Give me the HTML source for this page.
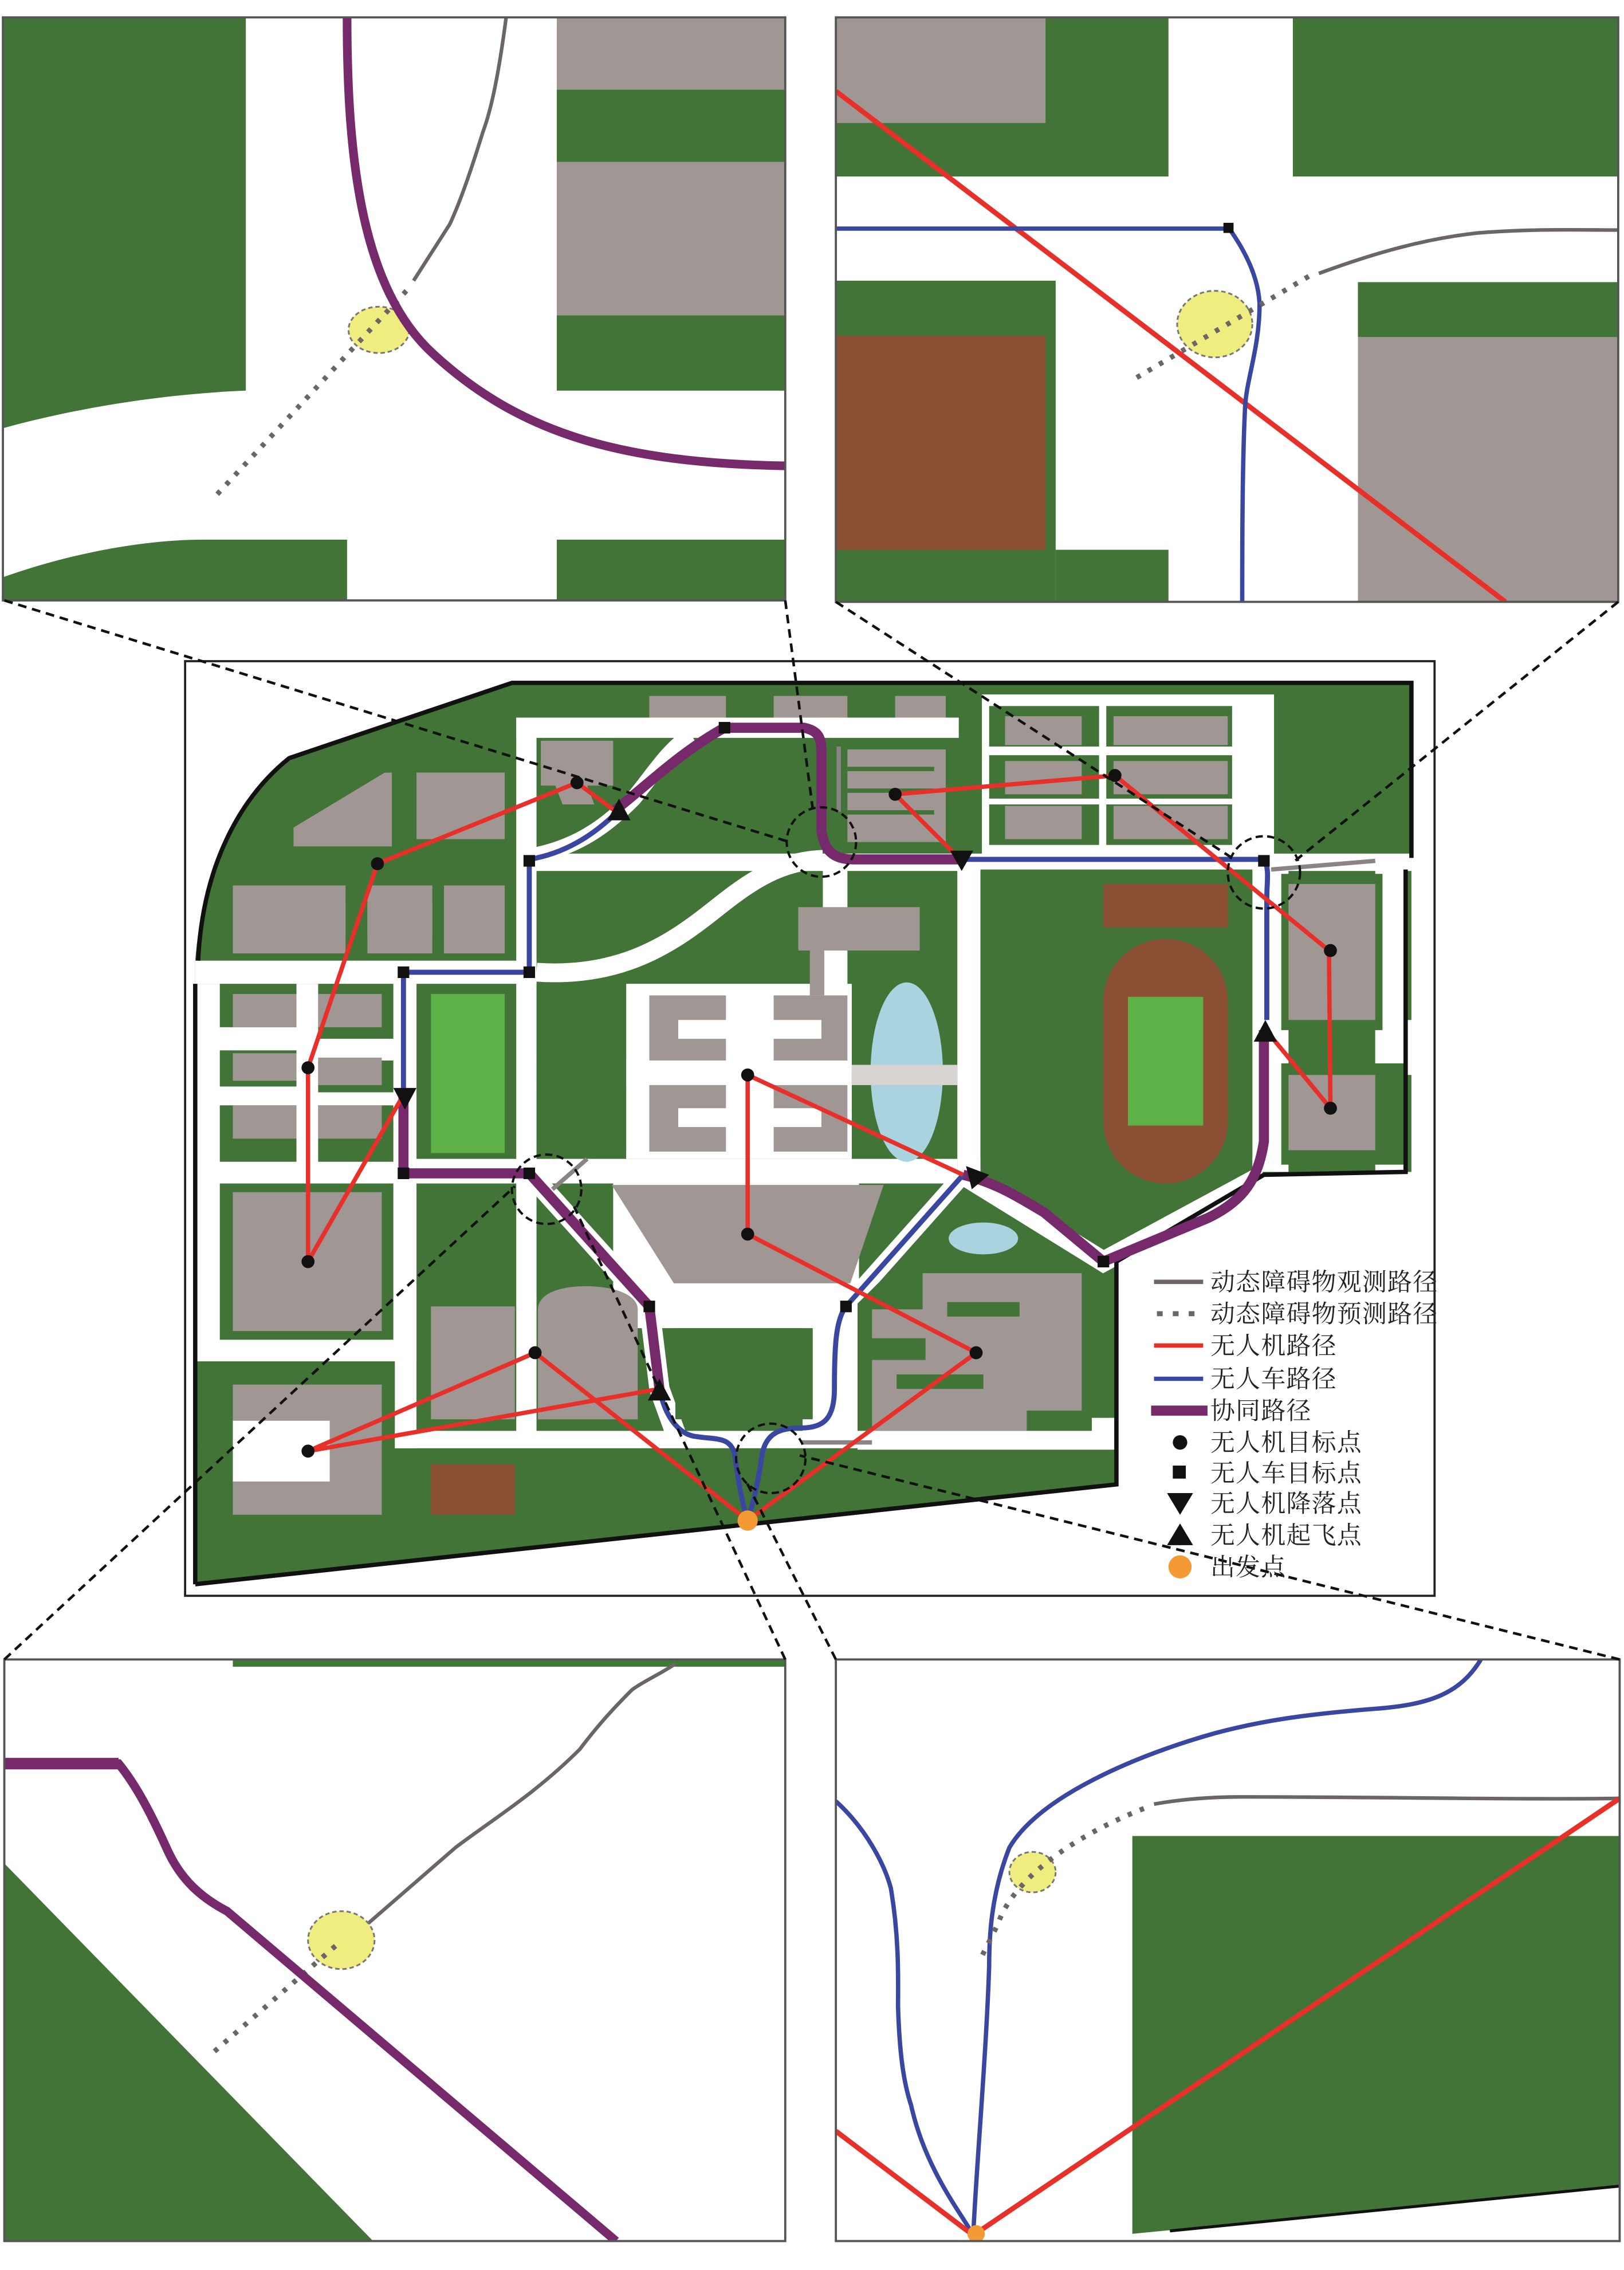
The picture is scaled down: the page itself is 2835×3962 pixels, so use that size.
<!DOCTYPE html>
<html><head><meta charset="utf-8"><style>
html,body{margin:0;padding:0;background:#fff;}
svg{display:block;}
text{font-family:"Liberation Serif","Noto Serif CJK SC","Noto Sans CJK SC",serif;}
</style></head><body>
<svg width="2835" height="3962" viewBox="0 0 1123 1569" preserveAspectRatio="none" xmlns="http://www.w3.org/2000/svg">
<defs>
<clipPath id="cTL"><rect x="2" y="12" width="541" height="403"/></clipPath>
<clipPath id="cTR"><rect x="578" y="12" width="541" height="404"/></clipPath>
<clipPath id="cBL"><rect x="3" y="1147" width="540" height="402"/></clipPath>
<clipPath id="cBR"><rect x="578" y="1147" width="542" height="402"/></clipPath>
</defs>
<rect width="1123" height="1569" fill="#fff"/>

<!-- ============ TOP LEFT PANEL ============ -->
<g clip-path="url(#cTL)">
<path d="M2,12 L170,12 L170,270 C120,272 60,280 2,296 Z" fill="#427337"/>
<path d="M2,399 C50,382 100,373 141,373 L240,373 L240,415 L2,415 Z" fill="#427337"/>
<rect x="385" y="12" width="158" height="50" fill="#a09693"/>
<rect x="385" y="62" width="158" height="50" fill="#427337"/>
<rect x="385" y="112" width="158" height="106" fill="#a09693"/>
<rect x="385" y="218" width="158" height="52" fill="#427337"/>
<rect x="385" y="373" width="158" height="42" fill="#427337"/>
<path d="M350,12 C345,50 340,75 334,91 C325,120 318,140 311,155 L286,194" fill="none" stroke="#6b6565" stroke-width="2.5"/>
<ellipse cx="262" cy="228" rx="21" ry="16" fill="#f0ed80" stroke="#777" stroke-width="1.2" stroke-dasharray="3,2"/>
<path d="M281,201 L148,344" fill="none" stroke="#6b6565" stroke-width="3.5" stroke-dasharray="3,6"/>
<path d="M240,12 C240,110 250,200 300,245 C360,300 430,320 543,322" fill="none" stroke="#772a6b" stroke-width="6"/>
</g>
<rect x="2" y="12" width="541" height="403" fill="none" stroke="#555" stroke-width="1.5"/>

<!-- ============ TOP RIGHT PANEL ============ -->
<g clip-path="url(#cTR)">
<rect x="578" y="12" width="230" height="110" fill="#427337"/>
<rect x="578" y="12" width="145" height="73" fill="#a09693"/>
<rect x="894" y="12" width="226" height="110" fill="#427337"/>
<rect x="578" y="194" width="152" height="222" fill="#427337"/>
<rect x="578" y="232" width="145" height="148" fill="#8c5034"/>
<rect x="730" y="380" width="78" height="36" fill="#427337"/>
<rect x="939" y="195" width="181" height="38" fill="#427337"/>
<rect x="939" y="233" width="181" height="183" fill="#a09693"/>
<path d="M578,63 L1041,416" stroke="#e8302a" stroke-width="3.5"/>
<path d="M578,158 L850,158 C860,172 870,190 871,210 C871,240 862,262 861,281 C859,320 859,380 859,416" fill="none" stroke="#3a47a0" stroke-width="3"/>
<rect x="846" y="154" width="7" height="7" fill="#111"/>
<path d="M912,189 C950,175 985,165 1022,161 C1060,158 1090,159 1119,159" fill="none" stroke="#6b6565" stroke-width="2.5"/>
<ellipse cx="840" cy="224" rx="26" ry="23" fill="#f0ed80" stroke="#777" stroke-width="1.2" stroke-dasharray="3,2"/>
<path d="M905,191 L786,261" fill="none" stroke="#6b6565" stroke-width="3.5" stroke-dasharray="3,6"/>
</g>
<rect x="578" y="12" width="541" height="404" fill="none" stroke="#555" stroke-width="1.5"/>

<!-- ============ BOTTOM LEFT PANEL ============ -->
<g clip-path="url(#cBL)">
<rect x="161" y="1147" width="382" height="5" fill="#3f7a34"/>
<path d="M3,1288 L258,1549 L3,1549 Z" fill="#427337"/>
<path d="M467,1150 C455,1158 445,1162 437,1168 C420,1185 410,1197 401,1209 C370,1240 340,1258 315,1277 L247,1336" fill="none" stroke="#6b6565" stroke-width="2.5"/>
<ellipse cx="236" cy="1341" rx="23" ry="20" fill="#f0ed80" stroke="#777" stroke-width="1.2" stroke-dasharray="3,2"/>
<path d="M232,1345 L147,1419" fill="none" stroke="#6b6565" stroke-width="3.5" stroke-dasharray="3,6"/>
<path d="M3,1219 L82,1219 C95,1235 105,1255 115,1277 C125,1300 140,1312 157,1321 L426,1549" fill="none" stroke="#772a6b" stroke-width="6"/>
<path d="M3,1219 L82,1219" stroke="#772a6b" stroke-width="8"/>
</g>
<rect x="3" y="1147" width="540" height="402" fill="none" stroke="#555" stroke-width="1.5"/>

<!-- ============ BOTTOM RIGHT PANEL ============ -->
<g clip-path="url(#cBR)">
<path d="M783,1269 L1120,1269 L1120,1511 L783,1544 Z" fill="#427337"/>
<path d="M809,1542 L1120,1511" stroke="#111" stroke-width="2"/>
<path d="M1024,1147 C1010,1170 990,1178 952,1181 C900,1185 870,1190 840,1198 C790,1212 720,1240 698,1277 C685,1310 684,1340 684,1359 C682,1420 675,1500 673,1545" fill="none" stroke="#3a47a0" stroke-width="3"/>
<path d="M578,1245 C600,1265 612,1290 616,1305 C622,1340 621,1370 621,1387 C622,1420 625,1440 630,1455 C640,1500 665,1530 673,1545" fill="none" stroke="#3a47a0" stroke-width="3"/>
<path d="M798,1247 C820,1243 840,1242 859,1242 C950,1242 1050,1244 1120,1243" fill="none" stroke="#6b6565" stroke-width="2.5"/>
<ellipse cx="714" cy="1294" rx="16" ry="14" fill="#f0ed80" stroke="#777" stroke-width="1.2" stroke-dasharray="3,2"/>
<path d="M791,1250 C740,1270 700,1300 690,1330 L677,1356" fill="none" stroke="#6b6565" stroke-width="3.5" stroke-dasharray="3,6"/>
<path d="M578,1473 L673,1545 L1120,1243" fill="none" stroke="#e8302a" stroke-width="3.5"/>
<circle cx="675" cy="1544" r="6" fill="#f39a34"/>
</g>
<rect x="578" y="1147" width="542" height="402" fill="none" stroke="#555" stroke-width="1.5"/>

<!-- ============ MAIN MAP ============ -->
<rect x="128" y="457" width="864" height="646" fill="#fff" stroke="#222" stroke-width="1.5"/>
<path d="M135,1095 L135,664 C140,600 165,552 200,524 L354,472 L976,472 L976,810 L874,812 L772,872 L772,1026 Z" fill="#427337"/>
<g fill="#fff">
<rect x="357" y="496" width="306" height="14"/>
<rect x="371" y="590" width="605" height="12"/>
<rect x="662" y="593" width="16" height="219"/>
<rect x="569" y="598" width="17" height="92"/>
<rect x="135" y="664" width="236" height="16"/>
<rect x="357" y="496" width="14" height="501"/>
<rect x="135" y="680" width="153" height="261"/>
<rect x="273" y="680" width="15" height="321"/>
<rect x="273" y="989" width="497" height="12"/>
<rect x="288" y="801" width="374" height="17"/>
<rect x="433" y="680" width="156" height="121"/>
<rect x="424" y="818" width="170" height="100"/>
<rect x="679" y="480" width="202" height="113"/>
<rect x="866" y="601" width="25" height="209"/>
<rect x="951" y="601" width="21" height="209"/>
<rect x="951" y="705" width="25" height="38"/>
<rect x="555" y="903" width="40" height="90"/>
<rect x="593" y="980" width="180" height="22"/>
</g>
<path d="M371,672 C430,676 465,652 495,628 C520,608 540,595 569,594" fill="none" stroke="#fff" stroke-width="13"/>
<path d="M366,592 C400,586 420,570 438,552 C452,535 462,518 478,508" fill="none" stroke="#fff" stroke-width="11"/>
<path d="M366,811 L449,903 L456,960 L468,993" fill="none" stroke="#fff" stroke-width="14"/>
<path d="M666,812 L585,903" fill="none" stroke="#fff" stroke-width="12"/>
<path d="M666,812 L763,872 L874,812" fill="none" stroke="#fff" stroke-width="14"/>
<g fill="#427337">
<rect x="152" y="680" width="53" height="30"/>
<rect x="220" y="680" width="52" height="38"/>
<rect x="152" y="726" width="53" height="25"/>
<rect x="220" y="733" width="52" height="22"/>
<rect x="152" y="764" width="53" height="39"/>
<rect x="220" y="764" width="52" height="39"/>
<rect x="152" y="818" width="120" height="108"/>
<rect x="135" y="941" width="138" height="60"/>
<rect x="372" y="680" width="61" height="53"/>
<rect x="372" y="750" width="61" height="46"/>
<rect x="467" y="918" width="95" height="63"/>
<rect x="684" y="488" width="76" height="28"/>
<rect x="765" y="488" width="87" height="28"/>
<rect x="684" y="522" width="76" height="30"/>
<rect x="765" y="522" width="87" height="30"/>
<rect x="684" y="556" width="76" height="28"/>
<rect x="765" y="556" width="87" height="28"/>
<rect x="886" y="604" width="70" height="108"/>
<rect x="886" y="735" width="86" height="70"/>
<path d="M678,601 L866,601 L866,800 L763,855 L678,800 Z"/>
<path d="M593,901 L669,826 L755,876 L755,989 L593,989 Z"/>
</g>
<rect x="298" y="687" width="51" height="110" fill="#5eb147"/>
<ellipse cx="627" cy="741" rx="25" ry="62" fill="#a9d4df"/>
<rect x="589" y="736" width="73" height="14" fill="#d8d4d2"/>
<ellipse cx="680" cy="856" rx="24" ry="11" fill="#a9d4df"/>
<g fill="#a09693">
<path d="M203,572 L266,534 L271,534 L271,585 L203,585 Z"/>
<rect x="288" y="534" width="61" height="46"/>
<path d="M374,512 L424,512 L424,543 L406,543 L411,556 L389,556 L384,543 L374,543 Z"/>
<rect x="161" y="612" width="78" height="47"/>
<rect x="254" y="612" width="45" height="47"/>
<rect x="307" y="612" width="42" height="47"/>
<rect x="161" y="687" width="44" height="23"/>
<rect x="220" y="687" width="44" height="23"/>
<rect x="161" y="728" width="44" height="19"/>
<rect x="220" y="731" width="44" height="19"/>
<rect x="161" y="764" width="44" height="23"/>
<rect x="220" y="764" width="44" height="23"/>
<rect x="161" y="824" width="103" height="96"/>
<rect x="161" y="957" width="103" height="90"/>
<rect x="298" y="903" width="58" height="78"/>
<path d="M372,905 C372,895 385,889 405,889 C425,889 441,895 441,905 L441,981 L372,981 Z"/>
<rect x="449" y="481" width="53" height="15"/>
<rect x="535" y="481" width="51" height="15"/>
<rect x="619" y="481" width="35" height="15"/>
<rect x="586" y="518" width="68" height="64"/>
<rect x="552" y="627" width="84" height="30"/>
<rect x="560" y="657" width="10" height="31"/>
<path d="M449,688 L502,688 L502,705 L469,705 L469,718 L502,718 L502,733 L449,733 Z"/>
<path d="M535,688 L586,688 L586,733 L535,733 L535,718 L568,718 L568,705 L535,705 Z"/>
<path d="M449,750 L502,750 L502,766 L469,766 L469,779 L502,779 L502,796 L449,796 Z"/>
<path d="M535,750 L586,750 L586,796 L535,796 L535,779 L568,779 L568,766 L535,766 Z"/>
<path d="M423,819 L611,819 L588,887 L466,887 Z"/>
<rect x="695" y="495" width="53" height="20"/>
<rect x="770" y="495" width="79" height="20"/>
<rect x="695" y="526" width="53" height="23"/>
<rect x="770" y="526" width="79" height="23"/>
<rect x="695" y="557" width="53" height="23"/>
<rect x="770" y="557" width="79" height="23"/>
<rect x="891" y="611" width="60" height="94"/>
<rect x="891" y="743" width="60" height="52"/>
<path d="M638,880 L748,880 L748,975 L710,975 L710,989 L603,989 L603,940 L640,940 L640,925 L603,925 L603,905 L638,905 Z"/>
</g>
<rect x="161" y="982" width="67" height="42" fill="#fff"/>
<g fill="#427337">
<rect x="239" y="612" width="15" height="12"/><rect x="239" y="647" width="15" height="12"/>
<rect x="299" y="612" width="8" height="12"/><rect x="299" y="647" width="8" height="12"/>
<rect x="586" y="530" width="60" height="3"/><rect x="586" y="545" width="60" height="3"/><rect x="586" y="560" width="60" height="3"/>
<rect x="655" y="900" width="50" height="10"/><rect x="620" y="950" width="60" height="10"/>
</g>
<rect x="298" y="1012" width="58" height="35" fill="#8c5034"/>
<rect x="763" y="611" width="86" height="30" fill="#8c5034"/>
<rect x="763" y="649" width="86" height="169" rx="43" ry="43" fill="#8c5034"/>
<rect x="780" y="689" width="52" height="89" fill="#5eb147"/>
<path d="M135,1095 L135,680" stroke="#111" stroke-width="3" fill="none"/>
<path d="M137,664 C140,600 165,552 200,524 L354,472 L976,472 L976,593" stroke="#111" stroke-width="3" fill="none"/>
<path d="M972,601 L972,810 L874,812 L772,872 L772,1026 L135,1095" stroke="#111" stroke-width="3" fill="none"/>

<g stroke="#8a8484" stroke-width="3" fill="none">
<path d="M580,516 L580,561"/>
<path d="M879,601 L951,595"/>
<path d="M554,997 L603,997"/>
<path d="M382,822 L406,801"/>
</g>

<g fill="none" stroke-linejoin="round">
<path d="M501,503 L556,503 C566,505 568,510 568,520 L568,574 C570,588 576,594 590,594 L663,594" stroke="#772a6b" stroke-width="7"/>
<path d="M424,561 C445,545 470,520 501,503" stroke="#772a6b" stroke-width="7"/>
<path d="M279,755 L279,811 L366,811 L449,903 L456,960" stroke="#772a6b" stroke-width="7"/>
<path d="M874,712 L874,789 C870,815 860,830 835,842 L763,872 L722,838 C705,828 690,818 666,812" stroke="#772a6b" stroke-width="7"/>
<path d="M366,594 C390,590 410,578 428,560" stroke="#3a47a0" stroke-width="3.5"/>
<path d="M366,594 L366,672 L279,672 L279,755" stroke="#3a47a0" stroke-width="3.5"/>
<path d="M663,594 L874,594 C878,600 876,610 876,620 L876,705" stroke="#3a47a0" stroke-width="3.5"/>
<path d="M666,812 L585,903 C578,912 577,930 577,960 C577,980 570,987 554,987 C540,987 530,990 527,1005 C525,1020 521,1040 517,1050 C513,1040 510,1020 508,1005 C505,993 495,995 482,993 C470,992 460,980 456,960" stroke="#3a47a0" stroke-width="3.5"/>
<g stroke="#e8302a" stroke-width="3">
<path d="M430,564 L399,541 L261,597 L213,738 L213,872 L280,755"/>
<path d="M665,595 L619,549 L771,536 L919,657 L920,766 L877,714"/>
<path d="M517,743 L666,812"/>
<path d="M517,743 L517,853 L675,935 L517,1051"/>
<path d="M456,960 L213,1003 L370,935 L517,1051"/>
</g>
</g>
<g fill="#111">
<circle cx="399" cy="541" r="4.5"/><circle cx="261" cy="597" r="4.5"/><circle cx="213" cy="738" r="4.5"/>
<circle cx="213" cy="872" r="4.5"/><circle cx="370" cy="935" r="4.5"/><circle cx="213" cy="1003" r="4.5"/>
<circle cx="517" cy="743" r="4.5"/><circle cx="517" cy="853" r="4.5"/><circle cx="675" cy="935" r="4.5"/>
<circle cx="619" cy="549" r="4.5"/><circle cx="771" cy="536" r="4.5"/><circle cx="920" cy="657" r="4.5"/><circle cx="920" cy="766" r="4.5"/>
<rect x="362" y="591" width="8" height="8"/><rect x="362" y="668" width="8" height="8"/><rect x="275" y="668" width="8" height="8"/>
<rect x="275" y="807" width="8" height="8"/><rect x="362" y="807" width="8" height="8"/><rect x="445" y="899" width="8" height="8"/>
<rect x="497" y="499" width="8" height="8"/><rect x="870" y="591" width="8" height="8"/><rect x="759" y="868" width="8" height="8"/><rect x="581" y="899" width="8" height="8"/>
<path d="M272,752 L288,752 L280,767 Z"/>
<path d="M657,588 L673,588 L665,602 Z"/>
<path d="M428,552 L436,567 L420,567 Z"/>
<path d="M456,953 L464,968 L448,968 Z"/>
<path d="M875,705 L883,720 L867,720 Z"/>
<path d="M668,806 L684,812 L672,822 Z"/>
</g>
<circle cx="517" cy="1051" r="7" fill="#f39a34"/>
<g fill="none" stroke="#111" stroke-width="1.6" stroke-dasharray="5,3">
<circle cx="568" cy="582" r="24"/>
<circle cx="874" cy="603" r="25"/>
<circle cx="378" cy="822" r="24"/>
<circle cx="533" cy="1008" r="24"/>
</g>
<g fill="none" stroke="#111" stroke-width="1.8" stroke-dasharray="6,4">
<path d="M3,415 L546,582"/>
<path d="M543,415 L562,559"/>
<path d="M578,416 L852,593"/>
<path d="M1119,416 L893,597"/>
<path d="M3,1147 L356,820"/>
<path d="M543,1147 L397,834"/>
<path d="M578,1147 L515,1022"/>
<path d="M1120,1147 L553,1006"/>
</g>
<g>
<path d="M798,886 L832,886" stroke="#6b6565" stroke-width="3"/>
<path d="M800,908 L832,908" stroke="#6b6565" stroke-width="3.5" stroke-dasharray="4,7"/>
<path d="M798,930 L832,930" stroke="#e8302a" stroke-width="3"/>
<path d="M798,953 L832,953" stroke="#3a47a0" stroke-width="3"/>
<path d="M796,975 L835,975" stroke="#772a6b" stroke-width="7"/>
<circle cx="816" cy="997" r="5" fill="#111"/>
<rect x="811" y="1013" width="9" height="9" fill="#111"/>
<path d="M807,1032 L825,1032 L816,1047 Z" fill="#111"/>
<path d="M816,1053 L825,1068 L807,1068 Z" fill="#111"/>
<circle cx="816" cy="1083" r="8" fill="#f39a34"/>
<g font-size="17" fill="#222" letter-spacing="0.5">
<text x="837" y="892">动态障碍物观测路径</text>
<text x="837" y="914">动态障碍物预测路径</text>
<text x="837" y="936">无人机路径</text>
<text x="837" y="959">无人车路径</text>
<text x="837" y="981">协同路径</text>
<text x="837" y="1003">无人机目标点</text>
<text x="837" y="1024">无人车目标点</text>
<text x="837" y="1045">无人机降落点</text>
<text x="837" y="1067">无人机起飞点</text>
<text x="837" y="1089">出发点</text>
</g>
</g>
</svg>
</body></html>
